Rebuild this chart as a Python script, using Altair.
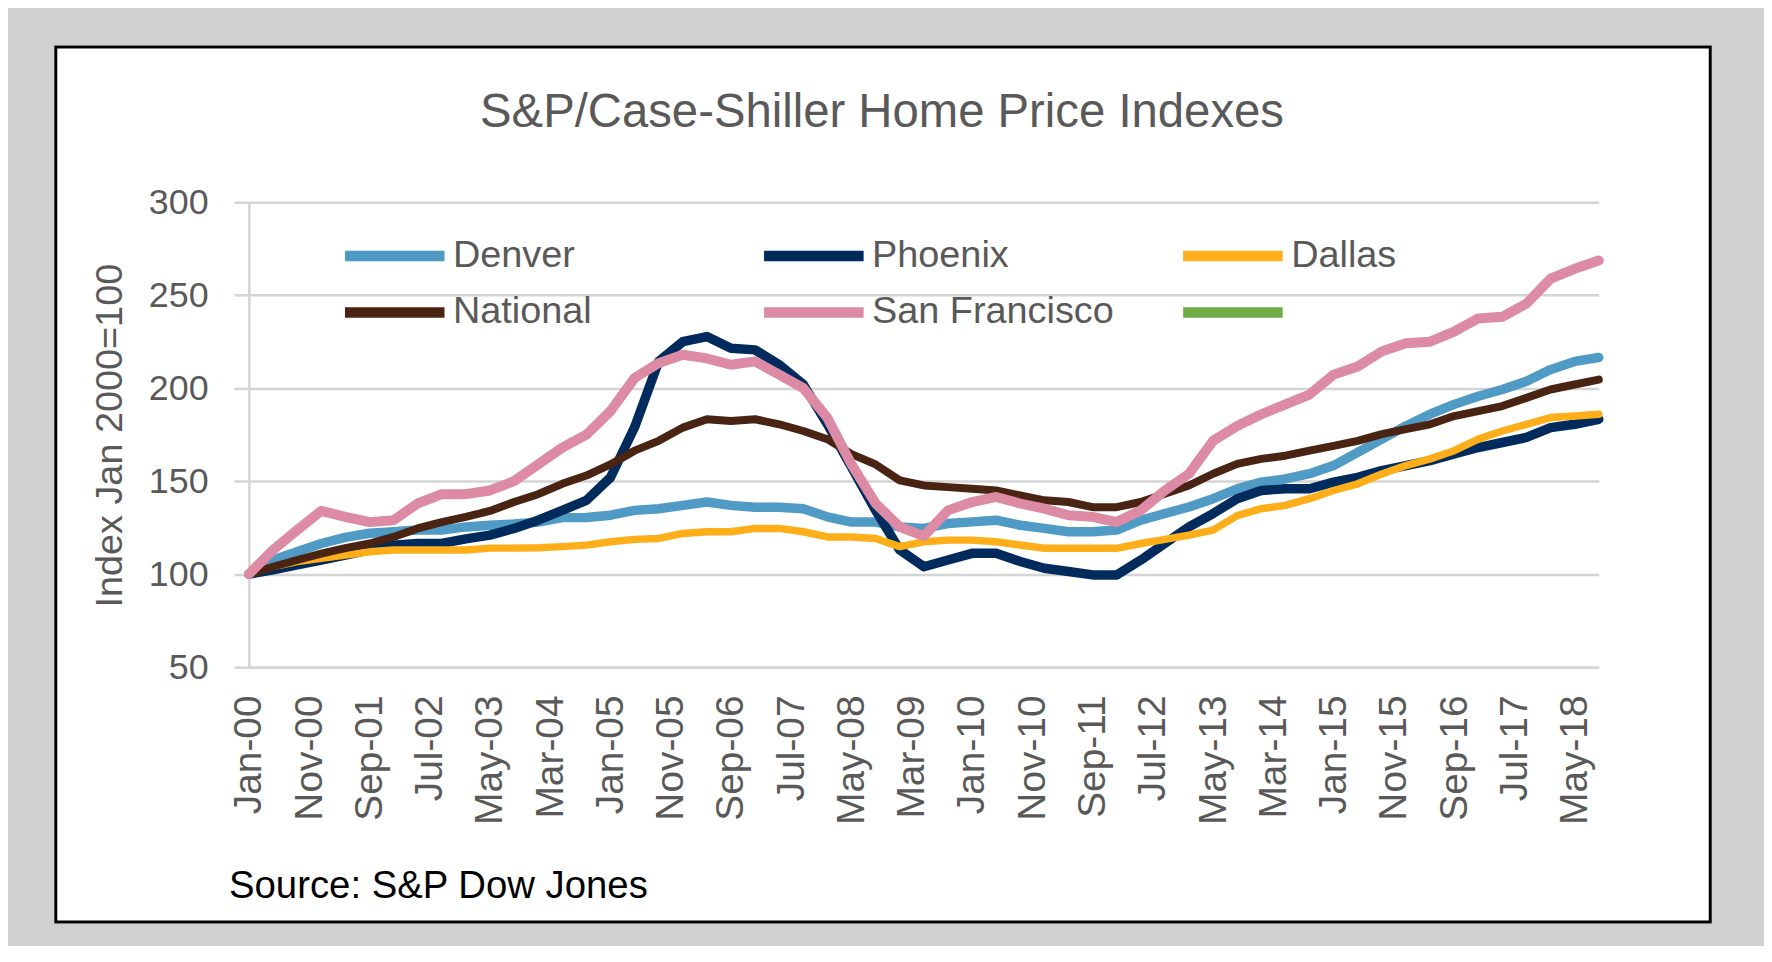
import altair as alt
import pandas as pd

# ---- data (index = months since Jan 2000, every 4 months) ----
MONTH_INDEX = list(range(0, 225, 4))

TICK_VALUES = list(range(0, 221, 10))
TICK_LABELS = ["Jan-00", "Nov-00", "Sep-01", "Jul-02", "May-03", "Mar-04", "Jan-05",
               "Nov-05", "Sep-06", "Jul-07", "May-08", "Mar-09", "Jan-10", "Nov-10",
               "Sep-11", "Jul-12", "May-13", "Mar-14", "Jan-15", "Nov-15", "Sep-16",
               "Jul-17", "May-18"]

DENVER = [100, 107.6, 112, 116.5, 119.8, 122, 122.8, 123.7, 123.7, 125.4, 126.3, 127, 128, 130.4,
          130.5, 131.7, 134.3, 135.2, 137, 138.8, 137, 136, 136, 135.2, 130.8, 128, 128, 125.4,
          124.6, 127.2, 128.1, 129, 126.3, 124.6, 122.8, 122.8, 123.7, 129, 132.6, 136.1, 140.6, 145.9,
          149.5, 151.2, 154, 158.4, 165.5, 172.6, 179.7, 186, 191.3, 195.7, 199.3, 203.7, 210, 214.4, 216.5]
PHOENIX = [100, 102.3, 105, 107.6, 110.3, 113, 115.6, 116.5, 116.5, 119, 121, 124.6, 129, 134.3,
           139.7, 152, 179, 214.4, 225, 227.8, 221.5, 220.6, 212.6, 202, 180.6, 157.5, 134.3, 113,
           104, 107.6, 111.2, 111.2, 106.8, 103.2, 101.4, 99.6, 99.6, 107.6, 116.5, 125.4, 132.6, 140.6,
           145, 145.9, 145.9, 149.5, 152.1, 155.7, 158.4, 161, 164.6, 168.1, 170.8, 173.5, 178.8, 180.6, 183.3]
DALLAS = [100, 104, 106.8, 108.5, 110.3, 112, 113, 113, 113, 113, 114, 114, 114.2, 114.8,
          115.6, 117.4, 118.7, 119.2, 121.9, 122.8, 122.8, 124.6, 124.6, 122.8, 120, 120, 119.2, 114.8,
          117.4, 118.3, 118.3, 117.4, 115.7, 113.9, 113.9, 113.9, 113.9, 116.5, 118.7, 121, 123.7, 131.5,
          135.2, 137, 140.6, 145, 148.6, 153.9, 158.4, 162, 166.4, 172.6, 177, 180.6, 184.2, 185, 186]
NATIONAL = [100, 104, 107.6, 111, 114, 116.5, 120, 124.6, 128, 130.8, 134, 138.8, 143, 148.6,
            153, 159, 166.4, 171.7, 178.8, 183.3, 182.4, 183.3, 180.6, 177, 172.6, 164.6, 159, 150.4,
            147.7, 146.8, 145.9, 145, 142.3, 139.7, 138.8, 136, 136, 138.8, 143.2, 147.7, 154, 159.3,
            162, 163.7, 166.4, 169, 171.7, 175.3, 178, 180.6, 185, 187.7, 190.4, 194.8, 199.3, 202, 204.6]
SAN_FRANCISCO = [100, 113, 123.7, 134, 130.8, 128, 129, 138, 143, 143, 145, 150, 159, 168,
                 175, 187.7, 205.5, 213.5, 218, 216, 212.6, 214.4, 207.3, 200, 184, 159, 138, 125.4,
                 120.5, 134.3, 138.8, 141.5, 138, 135.2, 131.7, 130.8, 128, 134.3, 145, 154, 171.7, 179.7,
                 186, 191.3, 196.6, 207.3, 211.7, 219.8, 224.2, 225, 230.4, 237.5, 238.4, 245.5, 258.9, 264.2, 268.7]

SERIES = ["Denver", "Phoenix", "Dallas", "National", "San Francisco"]
SERIES_VALUES = [DENVER, PHOENIX, DALLAS, NATIONAL, SAN_FRANCISCO]
LEGEND_DOMAIN = SERIES + [" "]
COLORS = ["#4F9BC5", "#002B5C", "#FDAE19", "#4A2412", "#DD8BA5", "#70AD47"]
LINE_WIDTHS = [9.5, 9.5, 7.5, 8, 10]

TITLE = "S&P/Case-Shiller Home Price Indexes"
Y_TITLE = "Index Jan 2000=100"
SOURCE = "Source: S&P Dow Jones"

rows = []
for name, vals in zip(SERIES, SERIES_VALUES):
    for m, v in zip(MONTH_INDEX, vals):
        rows.append({"series": name, "month": m, "value": v})
df = pd.DataFrame(rows)

FONT = "Liberation Sans"
TEXT_GRAY = "#595959"
GRID_GRAY = "#D4D4D4"
BG_GRAY = "#D0D0D0"

label_array = "[" + ",".join("'%s'" % s for s in TICK_LABELS) + "]"

x_enc = alt.X(
    "month:Q",
    scale=alt.Scale(domain=[0, 224], nice=False, zero=False),
    axis=alt.Axis(
        values=TICK_VALUES, labelExpr=label_array + "[round(datum.value/10)]",
        labelAngle=270, labelFontSize=39, labelFont=FONT, labelColor=TEXT_GRAY,
        labelPadding=28, ticks=False, grid=False, domainColor=GRID_GRAY,
        domainWidth=2.5, title=None, labelOverlap=False,
    ),
)
y_enc = alt.Y(
    "value:Q",
    scale=alt.Scale(domain=[50, 300], nice=False, zero=False),
    axis=alt.Axis(
        values=[50, 100, 150, 200, 250, 300], grid=True, gridColor=GRID_GRAY,
        gridWidth=2.5, tickSize=15, tickColor=GRID_GRAY, tickWidth=2.5,
        domainColor=GRID_GRAY, domainWidth=2.5, labelFontSize=36, labelFont=FONT,
        labelColor=TEXT_GRAY, labelPadding=26, title=None,
    ),
)
color_enc = alt.Color(
    "series:N",
    scale=alt.Scale(domain=LEGEND_DOMAIN, range=COLORS),
    legend=alt.Legend(
        orient="none", legendX=91, legendY=34, columns=3, direction="horizontal",
        symbolType="stroke", symbolSize=10000, symbolStrokeWidth=10.5,
        labelFontSize=38, labelFont=FONT, labelColor=TEXT_GRAY, labelLimit=400,
        title=None, padding=0, gridAlign="all", columnPadding=64, rowPadding=16.7,
        clipHeight=40, labelOffset=3, symbolOffset=0,
    ),
)

frame_df = pd.DataFrame({"k": [0]})

# gray surround (a thick gray stroke outside the black box)
surround = alt.Chart(frame_df).mark_rect(
    fillOpacity=0, stroke=BG_GRAY, strokeWidth=120
).encode(
    x=alt.value(-194 - 61.5), x2=alt.value(1468 + 61.5),
    y=alt.value(-156 - 61.5), y2=alt.value(723 + 61.5),
)
border = alt.Chart(frame_df).mark_rect(
    fillOpacity=0, stroke="black", strokeWidth=3
).encode(
    x=alt.value(-194), x2=alt.value(1468), y=alt.value(-156), y2=alt.value(723),
)
title = alt.Chart(frame_df).mark_text(
    text=TITLE, font=FONT, fontSize=47.5, color=TEXT_GRAY, align="center", baseline="alphabetic"
).encode(x=alt.value(636), y=alt.value(-76))
ytitle = alt.Chart(frame_df).mark_text(
    text=Y_TITLE, font=FONT, fontSize=38, color=TEXT_GRAY, align="center",
    baseline="alphabetic", angle=270
).encode(x=alt.value(-127), y=alt.value(234.5))
source = alt.Chart(frame_df).mark_text(
    text=SOURCE, font=FONT, fontSize=38.5, color="black", align="left", baseline="alphabetic"
).encode(x=alt.value(-20), y=alt.value(699))

lines = []
for name, w in zip(SERIES, LINE_WIDTHS):
    lines.append(
        alt.Chart(df).transform_filter(alt.datum.series == name).mark_line(
            strokeWidth=w, strokeCap="round", strokeJoin="round"
        ).encode(x=x_enc, y=y_enc, color=color_enc)
    )

chart = alt.layer(surround, border, *lines, title, ytitle, source).properties(
    width=1356, height=467,
    padding={"left": 242, "top": 193, "right": 166, "bottom": 278},
    autosize=alt.AutoSizeParams(type="none"),
    background="white",
).configure_view(stroke=None)

chart.save("out.html", embed_options={"renderer": "svg", "actions": False})
